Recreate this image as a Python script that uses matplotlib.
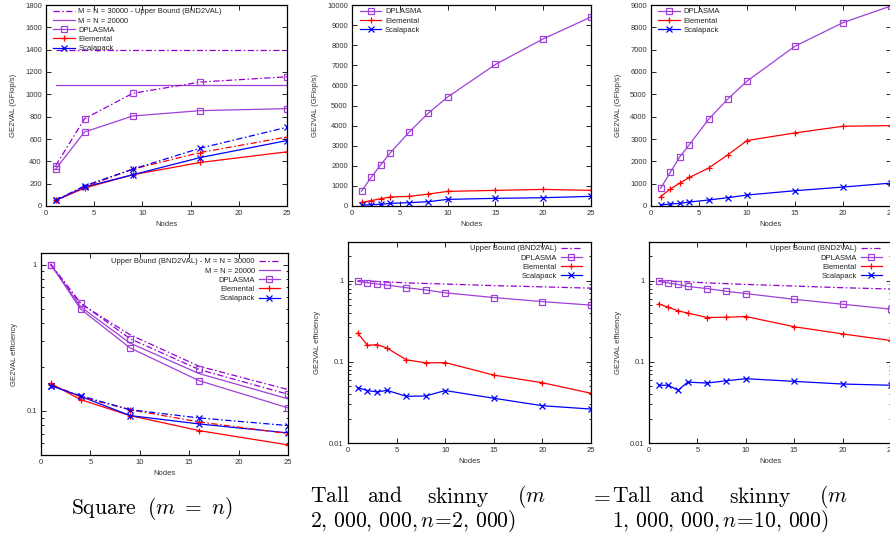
import matplotlib
matplotlib.use("Agg")
import matplotlib.pyplot as plt
from matplotlib.ticker import MultipleLocator, LogLocator, NullFormatter, FixedLocator

# ---- data: square (m = n) ----
sq_nodes = [1, 4, 9, 16, 25]
sq_ub30 = [1400, 1400, 1400, 1400, 1400]
sq_ub20 = [1085, 1085, 1085, 1085, 1085]
sq_dplasma30 = [360, 782, 1009, 1110, 1157]
sq_dplasma20 = [330, 663, 806, 854, 872]
sq_elemental30 = [50, 170, 330, 479, 618]
sq_elemental20 = [50, 161, 280, 390, 485]
sq_scalapack30 = [50, 181, 330, 518, 705]
sq_scalapack20 = [50, 170, 280, 434, 586]

sq_eff_ub30 = [1.0, 0.541, 0.332, 0.202, 0.140]
sq_eff_ub20 = [1.0, 0.515, 0.291, 0.180, 0.121]
sq_eff_dplasma30 = [1.0, 0.548, 0.312, 0.192, 0.130]
sq_eff_dplasma20 = [1.0, 0.497, 0.270, 0.161, 0.105]
sq_eff_elemental30 = [0.151, 0.125, 0.102, 0.0841, 0.070]
sq_eff_elemental20 = [0.154, 0.1195, 0.093, 0.0734, 0.0586]
sq_eff_scalapack30 = [0.149, 0.127, 0.102, 0.0896, 0.0794]
sq_eff_scalapack20 = [0.149, 0.126, 0.093, 0.0815, 0.0708]

# ---- data: tall and skinny ----
ts_nodes = [1, 2, 3, 4, 6, 8, 10, 15, 20, 25]

ts1_dplasma = [744, 1421, 2050, 2645, 3686, 4628, 5421, 7041, 8314, 9405]
ts1_elemental = [180, 265, 364, 446, 479, 595, 727, 777, 826, 777]
ts1_scalapack = [35, 66, 83, 132, 165, 215, 330, 380, 413, 479]
ts1_eff_ub = [1.0, 0.99, 0.98, 0.97, 0.94, 0.925, 0.91, 0.87, 0.84, 0.81]
ts1_eff_dplasma = [0.98, 0.945, 0.91, 0.885, 0.82, 0.77, 0.71, 0.62, 0.553, 0.50]
ts1_eff_elemental = [0.226, 0.160, 0.163, 0.148, 0.106, 0.0972, 0.098, 0.0687, 0.0553, 0.041]
ts1_eff_scalapack = [0.048, 0.0443, 0.0425, 0.0446, 0.0376, 0.038, 0.0443, 0.0356, 0.0288, 0.0262]

ts2_dplasma = [788, 1502, 2202, 2752, 3883, 4790, 5593, 7156, 8212, 8956]
ts2_elemental = [417, 759, 1026, 1279, 1696, 2291, 2931, 3273, 3570, 3600]
ts2_scalapack = [45, 89, 119, 179, 268, 372, 491, 684, 848, 1026]
ts2_eff_ub = [1.0, 0.99, 0.98, 0.97, 0.94, 0.92, 0.90, 0.86, 0.82, 0.79]
ts2_eff_dplasma = [0.98, 0.937, 0.90, 0.85, 0.80, 0.74, 0.694, 0.59, 0.513, 0.446]
ts2_eff_elemental = [0.518, 0.47, 0.425, 0.40, 0.352, 0.355, 0.362, 0.271, 0.221, 0.183]
ts2_eff_scalapack = [0.0515, 0.0515, 0.0446, 0.0563, 0.0548, 0.0585, 0.062, 0.0575, 0.0533, 0.0515]

VIOLET = "#9400d3"
PURPLE = "#a040d8"
RED = "#ff0000"
BLUE = "#0000ff"
DASHDOT = (0, (5, 2, 1.2, 2))
FS = 5.5
LW = 0.9

plt.rcParams["font.family"] = ["Liberation Sans", "DejaVu Sans"]
plt.rcParams["mathtext.fontset"] = "cm"

fig = plt.figure(figsize=(8.9, 5.4), dpi=100)


def px_axes(x0, x1, y0, y1):
    return fig.add_axes([x0 / 890, 1 - y1 / 540, (x1 - x0) / 890, (y1 - y0) / 540])


def style(ax, ylabel, log=False):
    ax.set_xlim(0, 25)
    ax.xaxis.set_major_locator(MultipleLocator(5))
    ax.tick_params(which="both", direction="in", top=True, right=True,
                   labelsize=FS, labelcolor="#333333", width=0.6, pad=3)
    ax.tick_params(which="major", length=3.5)
    ax.tick_params(which="minor", length=1.8)
    for s in ax.spines.values():
        s.set_linewidth(0.9)
    ax.set_xlabel("Nodes", fontsize=FS, color="#333333", labelpad=3)
    ax.set_ylabel(ylabel, fontsize=FS, color="#333333", labelpad=6)
    if log:
        ax.set_yscale("log")
        ax.yaxis.set_major_locator(FixedLocator([0.01, 0.1, 1]))
        ax.yaxis.set_major_formatter(plt.FuncFormatter(lambda v, p: "%g" % v))
        ax.yaxis.set_minor_locator(LogLocator(base=10, subs=range(2, 10)))
        ax.yaxis.set_minor_formatter(NullFormatter())


def leg(ax, loc, anchor, first=True):
    ax.legend(loc=loc, bbox_to_anchor=anchor, frameon=False, fontsize=FS,
              borderpad=0, borderaxespad=0, labelspacing=0.25, handlelength=2.8,
              handletextpad=0.5, markerfirst=first, labelcolor="#222222")


# ---- top left: square performance ----
ax = px_axes(46, 287, 5, 206)
ax.plot(sq_nodes, sq_ub30, color=VIOLET, ls=DASHDOT, lw=LW, label="M = N = 30000 - Upper Bound (BND2VAL)")
ax.plot(sq_nodes, sq_ub20, color=PURPLE, lw=LW, label="M = N = 20000")
ax.plot(sq_nodes, sq_dplasma20, color=PURPLE, lw=LW, marker="s", ms=5, mfc="none", mew=0.9, label="DPLASMA")
ax.plot(sq_nodes, sq_elemental20, color=RED, lw=LW, marker="+", ms=5, mew=0.9, label="Elemental")
ax.plot(sq_nodes, sq_scalapack20, color=BLUE, lw=LW, marker="x", ms=4, mew=0.9, label="Scalapack")
ax.plot(sq_nodes, sq_dplasma30, color=VIOLET, ls=DASHDOT, lw=LW, marker="s", ms=5, mfc="none", mew=0.9, mec=PURPLE)
ax.plot(sq_nodes, sq_elemental30, color=RED, ls=DASHDOT, lw=LW, marker="+", ms=5, mew=0.9)
ax.plot(sq_nodes, sq_scalapack30, color=BLUE, ls=DASHDOT, lw=LW, marker="x", ms=4, mew=0.9)
ax.set_ylim(0, 1800)
ax.yaxis.set_major_locator(MultipleLocator(200))
style(ax, "GE2VAL (GFlop/s)")
leg(ax, "upper left", (0.03, 0.985))

# ---- top middle: tall and skinny 1 ----
ax = px_axes(352, 591, 5, 206)
ax.plot(ts_nodes, ts1_dplasma, color=PURPLE, lw=LW, marker="s", ms=5, mfc="none", mew=0.9, label="DPLASMA")
ax.plot(ts_nodes, ts1_elemental, color=RED, lw=LW, marker="+", ms=5, mew=0.9, label="Elemental")
ax.plot(ts_nodes, ts1_scalapack, color=BLUE, lw=LW, marker="x", ms=4, mew=0.9, label="Scalapack")
ax.set_ylim(0, 10000)
ax.yaxis.set_major_locator(MultipleLocator(1000))
style(ax, "GE2VAL (GFlop/s)")
leg(ax, "upper left", (0.033, 0.985))

# ---- top right: tall and skinny 2 ----
ax = px_axes(651, 891, 5, 206)
ax.plot(ts_nodes, ts2_dplasma, color=PURPLE, lw=LW, marker="s", ms=5, mfc="none", mew=0.9, label="DPLASMA")
ax.plot(ts_nodes, ts2_elemental, color=RED, lw=LW, marker="+", ms=5, mew=0.9, label="Elemental")
ax.plot(ts_nodes, ts2_scalapack, color=BLUE, lw=LW, marker="x", ms=4, mew=0.9, label="Scalapack")
ax.set_ylim(0, 9000)
ax.yaxis.set_major_locator(MultipleLocator(1000))
style(ax, "GE2VAL (GFlop/s)")
leg(ax, "upper left", (0.03, 0.985))

# ---- bottom left: square efficiency ----
ax = px_axes(41, 288, 253, 455)
ax.plot(sq_nodes, sq_eff_ub30, color=VIOLET, ls=DASHDOT, lw=LW, label="Upper Bound (BND2VAL) - M = N = 30000")
ax.plot(sq_nodes, sq_eff_ub20, color=PURPLE, lw=LW, label="M = N = 20000")
ax.plot(sq_nodes, sq_eff_dplasma20, color=PURPLE, lw=LW, marker="s", ms=5, mfc="none", mew=0.9, label="DPLASMA")
ax.plot(sq_nodes, sq_eff_elemental20, color=RED, lw=LW, marker="+", ms=5, mew=0.9, label="Elemental")
ax.plot(sq_nodes, sq_eff_scalapack20, color=BLUE, lw=LW, marker="x", ms=4, mew=0.9, label="Scalapack")
ax.plot(sq_nodes, sq_eff_dplasma30, color=VIOLET, ls=DASHDOT, lw=LW, marker="s", ms=5, mfc="none", mew=0.9, mec=PURPLE)
ax.plot(sq_nodes, sq_eff_elemental30, color=RED, ls=DASHDOT, lw=LW, marker="+", ms=5, mew=0.9)
ax.plot(sq_nodes, sq_eff_scalapack30, color=BLUE, ls=DASHDOT, lw=LW, marker="x", ms=4, mew=0.9)
ax.set_ylim(0.05, 1.2)
style(ax, "GE2VAL efficiency", log=True)
leg(ax, "upper right", (0.968, 0.975), first=False)

# ---- bottom middle: tall and skinny 1 efficiency ----
ax = px_axes(348, 591, 242, 443)
ax.plot(ts_nodes, ts1_eff_ub, color=VIOLET, ls=DASHDOT, lw=LW, label="Upper Bound (BND2VAL)")
ax.plot(ts_nodes, ts1_eff_dplasma, color=PURPLE, lw=LW, marker="s", ms=5, mfc="none", mew=0.9, label="DPLASMA")
ax.plot(ts_nodes, ts1_eff_elemental, color=RED, lw=LW, marker="+", ms=5, mew=0.9, label="Elemental")
ax.plot(ts_nodes, ts1_eff_scalapack, color=BLUE, lw=LW, marker="x", ms=4, mew=0.9, label="Scalapack")
ax.set_ylim(0.01, 3)
style(ax, "GE2VAL efficiency", log=True)
leg(ax, "upper right", (0.963, 0.985), first=False)

# ---- bottom right: tall and skinny 2 efficiency ----
ax = px_axes(649, 891, 242, 443)
ax.plot(ts_nodes, ts2_eff_ub, color=VIOLET, ls=DASHDOT, lw=LW, label="Upper Bound (BND2VAL)")
ax.plot(ts_nodes, ts2_eff_dplasma, color=PURPLE, lw=LW, marker="s", ms=5, mfc="none", mew=0.9, label="DPLASMA")
ax.plot(ts_nodes, ts2_eff_elemental, color=RED, lw=LW, marker="+", ms=5, mew=0.9, label="Elemental")
ax.plot(ts_nodes, ts2_eff_scalapack, color=BLUE, lw=LW, marker="x", ms=4, mew=0.9, label="Scalapack")
ax.set_ylim(0.01, 3)
style(ax, "GE2VAL efficiency", log=True)
leg(ax, "upper right", (0.963, 0.985), first=False)

# ---- captions (justified like the LaTeX subfigure captions) ----
CAP = 15.5


def ftext(x, y, s, **kw):
    fig.text(x / 890, 1 - y / 540, s, fontsize=CAP, va="center", **kw)


ftext(152, 508, r"$\mathrm{Square}\ \ (m\ =\ n)$", ha="center")

words = [r"$\mathrm{Tall}$", r"$\mathrm{and}$", r"$\mathrm{skinny}$", r"$(m$", r"$=$"]
offsets = [0, 57, 117, 207, 280]
for x0, second in [(310, r"$2,\,000,\,000,n\!=\!2,\,000)$"),
                   (612, r"$1,\,000,\,000,n\!=\!10,\,000)$")]:
    for w, off in zip(words, offsets):
        ftext(x0 + off, 497, w, ha="left")
    ftext(x0, 521, second, ha="left")

fig.savefig("out.png", dpi=100)
